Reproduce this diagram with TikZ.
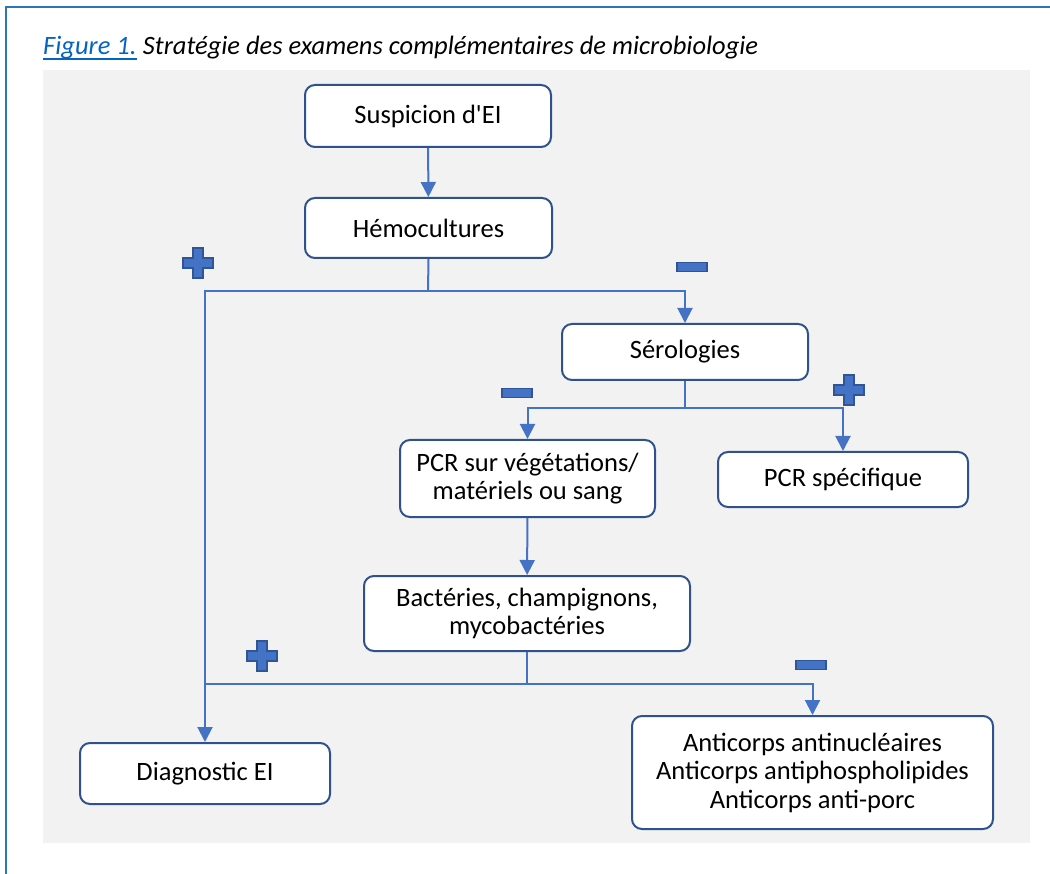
\documentclass[tikz,border=0pt]{standalone}
\usepackage{fontspec}
\setmainfont{Carlito}
\usetikzlibrary{arrows.meta}
\definecolor{frameblue}{HTML}{2E75B6}
\definecolor{linkblue}{HTML}{0563C1}
\definecolor{boxborder}{HTML}{2F528F}
\definecolor{conn}{HTML}{4472C4}
\definecolor{signdark}{HTML}{2F5597}
\definecolor{bggray}{HTML}{F2F2F2}
\begin{document}
\begin{tikzpicture}[x=1pt,y=-1pt,
  box/.style={draw=boxborder,line width=2pt,rounded corners=10pt,fill=white,align=center,font=\fontsize{26.5}{28.5}\selectfont,inner sep=0pt},
  capfont/.style={inner sep=0pt,font=\fontsize{26.5}{30}\selectfont\itshape},
  conn/.style={draw=conn,line width=2pt},
  arr/.style={conn,-{Triangle[length=15pt,width=15pt]}},
  sign/.style={draw=signdark,fill=conn,line width=1.6pt,line join=miter}]
\useasboundingbox (0,0) rectangle (1050,874);
\fill[white] (0,0) rectangle (1050,874);
\draw[frameblue,line width=2pt] (6,874) -- (6,7) -- (1050,7);
\fill[bggray] (43,70) rectangle (1030,843);
\node[capfont,anchor=base west,text=linkblue] (fig) at (43,55) {Figure 1.};
\draw[linkblue,line width=1.6pt] ([yshift=-4pt]fig.base west) -- ([yshift=-4pt]fig.base east);
\node[capfont,anchor=base west] (cap) at ([xshift=6pt]fig.base east) {Stratégie des examens complémentaires de microbiologie};
% boxes
\node[box,minimum width=246pt,minimum height=62pt] (s) at (428,116) {Suspicion d\textquotesingle EI};
\node[box,minimum width=247pt,minimum height=60pt] (h) at (428.5,228) {Hémocultures};
\node[box,minimum width=246pt,minimum height=56pt] (ser) at (685,352) {Sérologies};
\node[box,minimum width=255pt,minimum height=77pt] (pcr) at (527.5,478.5) {PCR sur végétations/\\matériels ou sang};
\node[box,minimum width=250pt,minimum height=55pt] (pcrs) at (843,479.5) {PCR spécifique};
\node[box,minimum width=326pt,minimum height=75pt] (bac) at (527,613.5) {Bactéries, champignons,\\mycobactéries};
\node[box,minimum width=250pt,minimum height=61pt] (d) at (205,773.5) {Diagnostic EI};
\node[box,minimum width=361pt,minimum height=113pt] (a) at (812.5,772.5) {Anticorps antinucléaires\\Anticorps antiphospholipides\\Anticorps anti-porc};
% junctions
\coordinate (j1) at (428,291);
\coordinate (j2) at (685,408);
\coordinate (j3) at (527,684);
% connectors
\draw[arr] (s) -- (h);
\draw[conn] (h.south) -- (j1);
\draw[arr] (j1) -| (d.north);
\draw[arr] (j1) -| (ser.north);
\draw[conn] (ser.south) -- (j2);
\draw[arr] (j2) -| (pcr.north);
\draw[arr] (j2) -| (pcrs.north);
\draw[arr] (pcr) -- (bac);
\draw[conn] (bac.south) -- (j3);
\draw[conn] (j3) -- (205,684);
\draw[arr] (j3) -| (a.north);
% plus / minus signs
\foreach \n/\cx/\cy in {p1/198/263, p2/849/390, p3/262/656}{
  \draw[sign] (\cx-5,\cy-15) -- (\cx+5,\cy-15) -- (\cx+5,\cy-5) -- (\cx+15,\cy-5) -- (\cx+15,\cy+5) -- (\cx+5,\cy+5) -- (\cx+5,\cy+15) -- (\cx-5,\cy+15) -- (\cx-5,\cy+5) -- (\cx-15,\cy+5) -- (\cx-15,\cy-5) -- (\cx-5,\cy-5) -- cycle;
}
\foreach \n/\cx/\cy in {m1/692/267, m2/517/393, m3/811/665}{
  \draw[sign] (\cx-15,\cy-4.5) rectangle (\cx+15,\cy+4.5);
}
\end{tikzpicture}
\end{document}
